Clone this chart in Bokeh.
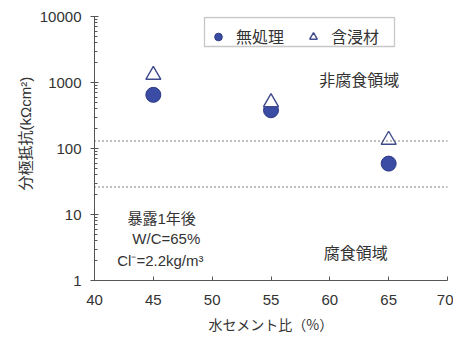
from bokeh.core.properties import value
from bokeh.embed import file_html
from bokeh.models import (ColumnDataSource, FixedTicker, Label, Legend, LegendItem,
                          PolyAnnotation, PrintfTickFormatter, Span, Title)
from bokeh.plotting import figure
from bokeh.resources import INLINE

# water-cement ratio (%) and polarization resistance (kΩcm²)
wc_ratio = [45, 55, 65]
untreated = [650, 380, 59]
impregnated = [1300, 500, 135]

# thresholds between corrosion / non-corrosion regions (kΩcm²)
upper_limit = 130
lower_limit = 26

x_ticks = [40, 45, 50, 55, 60, 65, 70]
y_ticks = [1, 10, 100, 1000, 10000]
y_minor = [m * 10 ** e for e in range(4) for m in range(2, 10)]

LATIN = "Liberation Sans, Noto Sans CJK JP"
CJK = "Noto Sans CJK JP"
TEXT = "#333333"
AXIS = "#555555"
BLUE = "#3a4ca3"
EDGE = "#2d3a85"

p = figure(width=453, height=339, x_range=(40, 70), y_range=(1, 10000),
           y_axis_type="log", output_backend="svg", toolbar_location=None,
           min_border_left=94, min_border_right=6, min_border_top=16,
           min_border_bottom=59)
p.outline_line_color = None
p.xgrid.visible = False
p.ygrid.visible = False
p.background_fill_color = "white"
p.border_fill_color = "white"

src = ColumnDataSource(dict(x=wc_ratio, a=untreated, b=impregnated))

r_circ = p.scatter("x", "a", source=src, marker="circle", size=15,
                   fill_color=BLUE, line_color=EDGE, line_width=1)
r_tri = p.scatter("x", "b", source=src, marker="triangle", size=15,
                  fill_color="white", line_color="#3f4a8c", line_width=1.4)

for lvl in (upper_limit, lower_limit):
    p.add_layout(Span(location=lvl, dimension="width", line_color=AXIS,
                      line_width=1.5, line_dash="1 3"))

# axes
xa = p.xaxis[0]
xa.ticker = FixedTicker(ticks=x_ticks)
xa.axis_label = "水セメント比（%）"
xa.axis_label_text_font = CJK
xa.axis_label_text_font_style = "normal"
xa.axis_label_text_font_size = "14px"
xa.axis_label_text_color = TEXT
xa.axis_label_standoff = 6
xa.major_label_text_font = LATIN
xa.major_label_text_font_size = "15px"
xa.major_label_text_color = TEXT
xa.major_label_standoff = 14
xa.major_tick_in = 4
xa.major_tick_out = 0
xa.minor_tick_in = 0
xa.minor_tick_out = 0
xa.axis_line_color = AXIS
xa.major_tick_line_color = AXIS

ya = p.yaxis[0]
ya.ticker = FixedTicker(ticks=y_ticks, minor_ticks=y_minor)
ya.formatter = PrintfTickFormatter(format="%d")
ya.major_label_text_font = LATIN
ya.major_label_text_font_size = "15px"
ya.major_label_text_color = TEXT
ya.major_label_standoff = 9
ya.major_tick_in = 4
ya.major_tick_out = 4
ya.minor_tick_in = 3
ya.minor_tick_out = 0
ya.axis_line_color = AXIS
ya.major_tick_line_color = AXIS
ya.minor_tick_line_color = AXIS

# y-axis title, started a little above the frame bottom
p.add_layout(Title(text="分極抵抗(kΩcm²)", align="left", offset=90,
                   text_font=LATIN, text_font_size="15px",
                   text_font_style="normal", text_color=TEXT, standoff=6),
             "left")

# region captions and test conditions
def caption(x, y, text, size="15px", style="normal", align="center"):
    p.add_layout(Label(x=x, y=y, text=text, text_align=align,
                       text_baseline="middle", text_font=LATIN,
                       text_font_size=size, text_font_style=style,
                       text_color=TEXT))

caption(62.5, 1070, "非腐食領域", size="16px")
caption(62.2, 2.56, "腐食領域", size="16px")
caption(45.7, 8.7, "暴露1年後")
caption(46.1, 4.3, "W/C=65%")
caption(45.6, 2.0, "Cl⁻=2.2kg/m³")

legend = Legend(items=[LegendItem(label="無処理", renderers=[r_circ]),
                       LegendItem(label="含浸材", renderers=[r_tri])],
                orientation="horizontal", location=(109, 232),
                label_text_font=CJK, label_text_font_size="16px",
                label_text_color=TEXT, glyph_width=30, glyph_height=19,
                label_height=15, label_standoff=3, spacing=14, padding=6,
                margin=0, border_line_color=None, background_fill_alpha=0)
p.add_layout(legend)

# frame around the legend, as a closed outline (frame-relative pixels)
box_l, box_r, box_b, box_t = 110, 300, 234, 263
p.add_layout(PolyAnnotation(xs=[box_l, box_r, box_r, box_l],
                            ys=[box_b, box_b, box_t, box_t],
                            xs_units="screen", ys_units="screen",
                            fill_alpha=0, line_color="#444444",
                            line_width=1.3, level="overlay"))

open("out.html", "w").write(file_html(p, INLINE))
